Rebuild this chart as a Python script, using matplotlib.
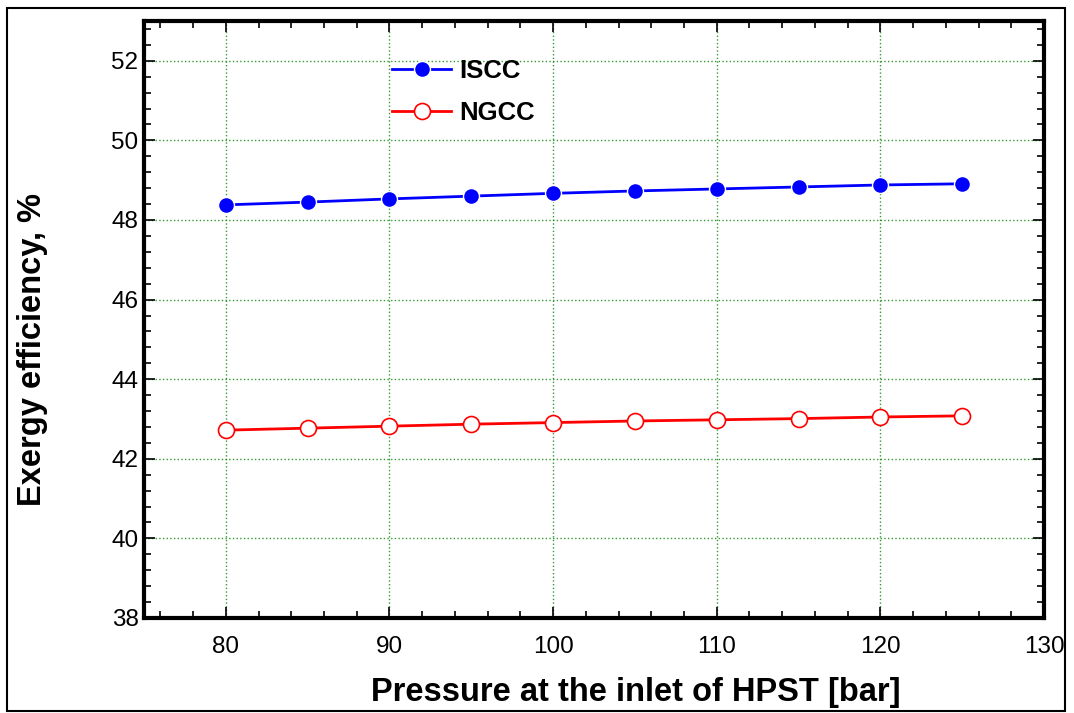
import numpy as np
import matplotlib.pyplot as plt
from matplotlib.patches import Rectangle
from matplotlib.ticker import MultipleLocator

pressure = [80, 85, 90, 95, 100, 105, 110, 115, 120, 125]
iscc = [48.38, 48.45, 48.53, 48.60, 48.67, 48.73, 48.78, 48.83, 48.88, 48.91]
ngcc = [42.72, 42.77, 42.82, 42.87, 42.91, 42.95, 42.98, 43.01, 43.05, 43.08]

plt.rcParams['font.family'] = ['Liberation Sans', 'DejaVu Sans']

fig = plt.figure(figsize=(10.74, 7.13), dpi=100)
ax = fig.add_axes([144 / 1074, 1 - 618 / 713, (1044 - 144) / 1074, (618 - 21) / 713])

# outer frame round the whole figure
fig.patches.append(Rectangle((7 / 1074, 2 / 713), 1058 / 1074, 703 / 713,
                             transform=fig.transFigure, fill=False,
                             edgecolor='black', linewidth=1.5))

ax.plot(pressure, iscc, color='blue', linewidth=2, marker='o', markersize=11.5,
        markerfacecolor='blue', markeredgecolor='white', markeredgewidth=1,
        label='ISCC', zorder=3)
ax.plot(pressure, ngcc, color='red', linewidth=2, marker='o', markersize=11.5,
        markerfacecolor='white', markeredgecolor='red', markeredgewidth=1.2,
        label='NGCC', zorder=3)

ax.set_xlim(75, 130)
ax.set_ylim(38, 53)
ax.set_xticks([80, 90, 100, 110, 120, 130])
ax.set_yticks([38, 40, 42, 44, 46, 48, 50, 52])
ax.xaxis.set_minor_locator(MultipleLocator(2))
ax.yaxis.set_minor_locator(MultipleLocator(0.4))
ax.tick_params(which='both', direction='in', top=True, right=True, width=1.2)
ax.tick_params(which='major', length=8, labelsize=17.5)
ax.tick_params(which='minor', length=5)
ax.tick_params(axis='x', which='major', pad=13)
ax.tick_params(axis='y', which='major', pad=4)

ax.grid(True, which='major', color='green', linestyle=':', linewidth=1, alpha=0.8)
for sp in ax.spines.values():
    sp.set_linewidth(3)

ax.set_xlabel('Pressure at the inlet of HPST [bar]', fontsize=23.5,
              fontweight='bold')
ax.set_ylabel('Exergy efficiency, %', fontsize=23.5, fontweight='bold')
ax.xaxis.set_label_coords(0.546, -0.099)
ax.yaxis.set_label_coords(-0.107, 0.449)

leg = ax.legend(loc='upper left', bbox_to_anchor=(0.25, 0.975), frameon=False,
                prop={'weight': 'bold', 'size': 18.5},
                handlelength=2.3, labelspacing=0.68, handletextpad=0.3)

fig.savefig('out.png', dpi=100)
